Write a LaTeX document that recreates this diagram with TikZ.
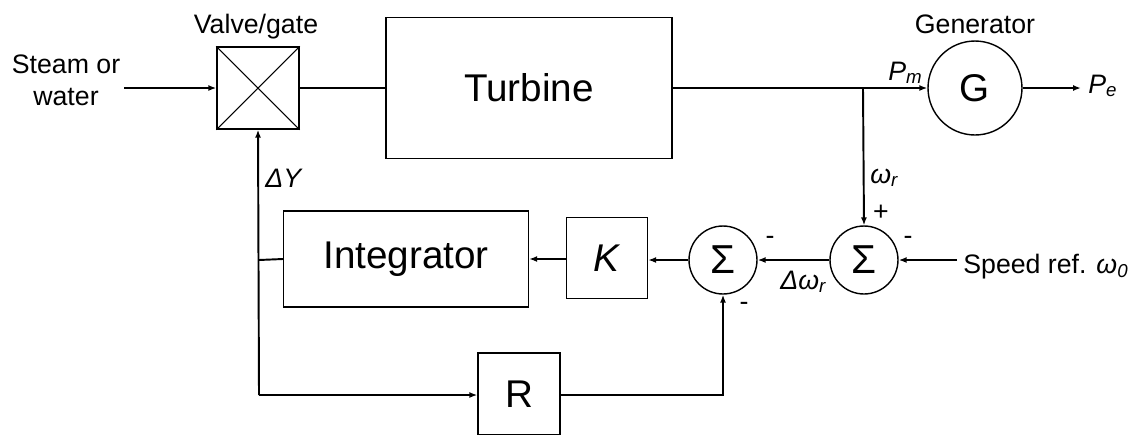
\documentclass[tikz,border=0pt]{standalone}
\usepackage{fontspec}
\setmainfont{Liberation Sans}
\usetikzlibrary{arrows.meta}
\newcommand{\lblsize}{\fontsize{15.2}{18}\selectfont}
\newcommand{\bigsize}{\fontsize{22}{24}\selectfont}
\begin{document}
\begin{tikzpicture}[x=0.02cm,y=-0.02cm,
	blk/.style={draw,line width=0.8pt,inner sep=0pt,font=\bigsize},
	sumc/.style={draw,circle,line width=0.8pt,minimum size=1.36cm,inner sep=0pt,font=\fontsize{23}{26}\selectfont},
	conn/.style={line width=1.1pt},
	arr/.style={conn,-{Latex[length=4.5pt,width=3.4pt]}},
	lbl/.style={font=\lblsize,inner sep=0pt}]
		\useasboundingbox (0,0) rectangle (1137,434);
		% blocks
		\node[blk,minimum width=1.64cm,minimum height=1.64cm] (valve) at (258,88) {};
		\draw[line width=0.6pt] (valve.north west)--(valve.south east) (valve.north east)--(valve.south west);
		\node[blk,minimum width=5.72cm,minimum height=2.82cm] (turb) at (529,88) {Turbine};
		\node[blk,circle,minimum size=1.88cm] (gen) at (975,88) {G};
		\node[sumc] (s2) at (864,260) {Σ};
		\node[sumc] (s1) at (723,260) {Σ};
		\node[blk,minimum width=1.62cm,minimum height=1.62cm] (k) at (607,258) {\textit{K}};
		\node[blk,minimum width=4.9cm,minimum height=1.92cm] (integ) at (406,259) {Integrator};
		\node[blk,minimum width=1.64cm,minimum height=1.64cm] (r) at (519,394) {R};
		% labels
		\node[lbl,align=center] (steam) at (66,80) {Steam or\\water};
		\node[lbl,anchor=base] (vlbl) at (256,33) {Valve/gate};
		\node[lbl,anchor=base] (glbl) at (975,33) {Generator};
		\node[lbl,anchor=base west] (pm) at (888,80) {\textit{P\textsubscript{m}}};
		\node[lbl,anchor=base west] (pe) at (1088,93) {\textit{P\textsubscript{e}}};
		\node[lbl,anchor=base west] (wr) at (870,183) {\textit{ω\textsubscript{r}}};
		\node[lbl] (plus) at (881,213) {+};
		\node[lbl] (m1) at (908,240) {-};
		\node[lbl] (m2) at (770,240) {-};
		\node[lbl] (m3) at (744,306) {-};
		\node[lbl,anchor=base west] (dwr) at (780,289) {\textit{Δω\textsubscript{r}}};
		\node[lbl,anchor=base west] (dy) at (265,187) {\textit{ΔY}};
		\node[lbl,anchor=base west] (spd) at (963,273) {Speed ref. \textit{ω\textsubscript{0}}};
		% connectors
		\coordinate (src) at (124,88);
		\coordinate (br) at (863,88);
		\coordinate (out) at (1081,88);
		\coordinate (ref) at (957,260);
		\coordinate (jn) at (259,260);
		\coordinate (bl) at (259,395);
		\draw[arr] (src) -- (valve.west);
		\draw[conn] (valve.east) -- (turb.west);
		\draw[arr] (turb.east) -- (gen.west);
		\draw[arr] (gen.east) -- (out);
		\draw[arr] (br) -- (s2.north);
		\draw[arr] (ref) -- (s2.east);
		\draw[arr] (s2.west) -- (s1.east);
		\draw[arr] (s1.west) -- (k.east |- s1.west);
		\draw[arr] (k.west |- integ.east) -- (integ.east);
		\draw[conn] (integ.west) -- (jn);
		\draw[arr] (bl) -- (valve.south);
		\draw[arr] (bl) -- (r.west |- bl);
		\draw[arr] (r.east |- bl) -| (s1.south);
	\end{tikzpicture}
\end{document}
